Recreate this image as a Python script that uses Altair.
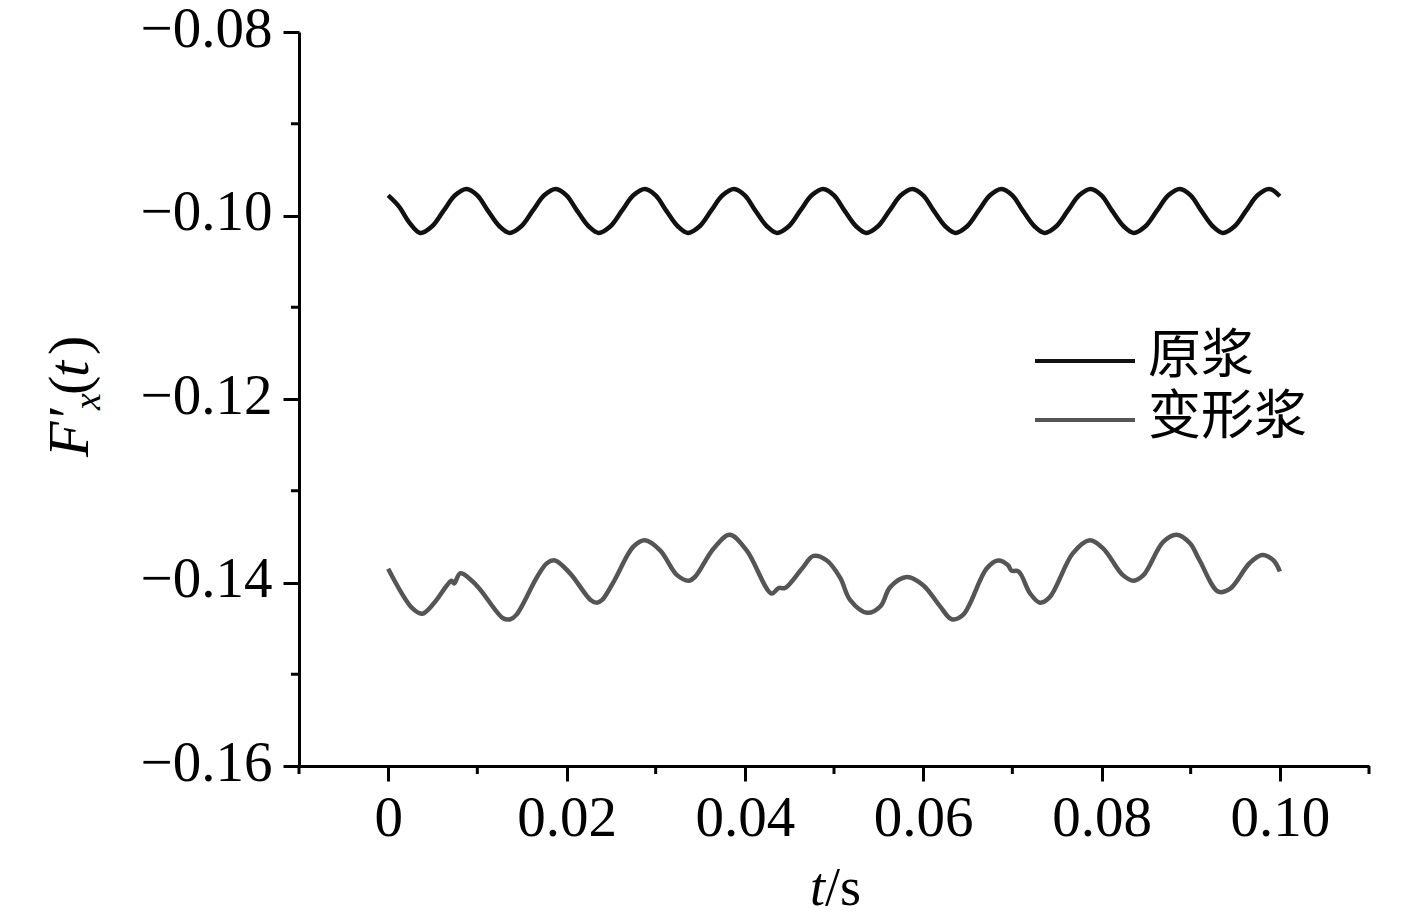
import altair as alt
import pandas as pd

# ---------------- data ----------------
series_names = ["原浆", "变形浆"]
series_colors = ["#111111", "#555555"]

black_t = [0.0000, 0.0012, 0.0024, 0.0036,
           0.0049, 0.0062, 0.0075, 0.0088, 0.0100, 0.0112, 0.0125, 0.0136,
           0.0149, 0.0162, 0.0175, 0.0188, 0.0200, 0.0212, 0.0225, 0.0236,
           0.0249, 0.0262, 0.0275, 0.0288, 0.0300, 0.0312, 0.0325, 0.0336,
           0.0349, 0.0362, 0.0375, 0.0388, 0.0400, 0.0412, 0.0425, 0.0436,
           0.0449, 0.0462, 0.0475, 0.0488, 0.0500, 0.0512, 0.0525, 0.0536,
           0.0549, 0.0562, 0.0575, 0.0588, 0.0600, 0.0612, 0.0625, 0.0636,
           0.0649, 0.0662, 0.0675, 0.0688, 0.0700, 0.0712, 0.0725, 0.0736,
           0.0749, 0.0762, 0.0775, 0.0788, 0.0800, 0.0812, 0.0825, 0.0836,
           0.0849, 0.0862, 0.0875, 0.0888, 0.0900, 0.0912, 0.0925, 0.0936,
           0.0949, 0.0962, 0.0975, 0.0988, 0.1000]
black_v = [-0.0978, -0.0990, -0.1008, -0.1019,
           -0.1012, -0.0995, -0.0978, -0.0971, -0.0978, -0.0995, -0.1012, -0.1019,
           -0.1012, -0.0995, -0.0978, -0.0971, -0.0978, -0.0995, -0.1012, -0.1019,
           -0.1012, -0.0995, -0.0978, -0.0971, -0.0978, -0.0995, -0.1012, -0.1019,
           -0.1012, -0.0995, -0.0978, -0.0971, -0.0978, -0.0995, -0.1012, -0.1019,
           -0.1012, -0.0995, -0.0978, -0.0971, -0.0978, -0.0995, -0.1012, -0.1019,
           -0.1012, -0.0995, -0.0978, -0.0971, -0.0978, -0.0995, -0.1012, -0.1019,
           -0.1012, -0.0995, -0.0978, -0.0971, -0.0978, -0.0995, -0.1012, -0.1019,
           -0.1012, -0.0995, -0.0978, -0.0971, -0.0978, -0.0995, -0.1012, -0.1019,
           -0.1012, -0.0995, -0.0978, -0.0971, -0.0978, -0.0995, -0.1012, -0.1019,
           -0.1012, -0.0995, -0.0978, -0.0971, -0.0979]

gray_t = [0.0000, 0.0027, 0.0038, 0.0051, 0.0066, 0.0071, 0.0074, 0.0081, 0.0099, 0.0129,
          0.0137, 0.0144, 0.0167, 0.0178, 0.0187, 0.0204, 0.0227, 0.0234, 0.0240, 0.0253,
          0.0275, 0.0288, 0.0305, 0.0324, 0.0337, 0.0344, 0.0365, 0.0383, 0.0402, 0.0430,
          0.0438, 0.0445, 0.0464, 0.0477, 0.0492, 0.0507, 0.0518, 0.0537, 0.0552, 0.0563,
          0.0582, 0.0600, 0.0619, 0.0632, 0.0645, 0.0671, 0.0684, 0.0695, 0.0699, 0.0707,
          0.0720, 0.0731, 0.0742, 0.0768, 0.0787, 0.0802, 0.0824, 0.0836, 0.0847, 0.0869,
          0.0884, 0.0899, 0.0910, 0.0931, 0.0944, 0.0966, 0.0980, 0.0993, 0.1000]
gray_v = [-0.1385, -0.1428, -0.1434, -0.1423, -0.1403, -0.1398, -0.1401, -0.1390, -0.1403, -0.1439,
          -0.1440, -0.1435, -0.1394, -0.1379, -0.1376, -0.1390, -0.1419, -0.1422, -0.1419, -0.1399,
          -0.1361, -0.1354, -0.1365, -0.1392, -0.1398, -0.1394, -0.1363, -0.1348, -0.1365, -0.1412,
          -0.1406, -0.1406, -0.1385, -0.1371, -0.1376, -0.1395, -0.1419, -0.1433, -0.1426, -0.1405,
          -0.1394, -0.1403, -0.1426, -0.1440, -0.1435, -0.1385, -0.1376, -0.1381, -0.1387, -0.1388,
          -0.1412, -0.1422, -0.1416, -0.1368, -0.1354, -0.1363, -0.1392, -0.1398, -0.1392, -0.1356,
          -0.1348, -0.1357, -0.1376, -0.1410, -0.1407, -0.1379, -0.1370, -0.1376, -0.1388]

x_major = [0.0, 0.02, 0.04, 0.06, 0.08, 0.10]
x_minor = [-0.01, 0.01, 0.03, 0.05, 0.07, 0.09, 0.11]
y_major = [-0.16, -0.14, -0.12, -0.10, -0.08]
y_minor = [-0.15, -0.13, -0.11, -0.09]

# ---------------- build ----------------
W, H = 1070, 734
SERIF = "Liberation Serif"
CJK = "Noto Sans CJK SC"

df = pd.concat([
    pd.DataFrame({"t": black_t, "v": black_v, "s": series_names[0]}),
    pd.DataFrame({"t": gray_t, "v": gray_v, "s": series_names[1]}),
], ignore_index=True)

xscale = alt.Scale(domain=[-0.01, 0.11], nice=False, zero=False)
yscale = alt.Scale(domain=[-0.16, -0.08], nice=False, zero=False)

x_axis = alt.Axis(
    values=x_major, title=None, grid=False,
    labelExpr="abs(datum.value) < 1e-9 ? '0' : format(datum.value, '.2f')",
    tickSize=15, tickWidth=3, domainWidth=3, tickColor="black", domainColor="black",
    labelFont=SERIF, labelFontSize=57, labelColor="black", labelPadding=9,
    labelFlush=False, labelOverlap=False,
)
y_axis = alt.Axis(
    values=y_major, title=None, grid=False,
    labelExpr="'\u2212' + format(abs(datum.value), '.2f')",
    tickSize=16, tickWidth=3, domainWidth=3, tickColor="black", domainColor="black",
    labelFont=SERIF, labelFontSize=57, labelColor="black", labelPadding=11,
    labelOffset=-3, labelFlush=False, labelOverlap=False,
)

lines = alt.Chart(df).mark_line(strokeWidth=4.5, interpolate="catmull-rom").encode(
    x=alt.X("t:Q", scale=xscale, axis=x_axis),
    y=alt.Y("v:Q", scale=yscale, axis=y_axis),
    color=alt.Color("s:N", scale=alt.Scale(domain=series_names, range=series_colors), legend=None),
)

# minor ticks, placed through the same scales (same axis spec so axes merge)
xminor = alt.Chart(pd.DataFrame({"t": x_minor})).mark_rule(color="black", strokeWidth=3).encode(
    x=alt.X("t:Q", scale=xscale, axis=x_axis),
    y=alt.value(H), y2=alt.value(H + 8),
)
yminor = alt.Chart(pd.DataFrame({"v": y_minor})).mark_rule(color="black", strokeWidth=3).encode(
    y=alt.Y("v:Q", scale=yscale, axis=y_axis),
    x=alt.value(0), x2=alt.value(-8),
)

one = pd.DataFrame({"k": [0]})

def txt(text, x, y, size=56, font=SERIF, style="normal", angle=0, align="left", baseline="alphabetic"):
    return alt.Chart(one).mark_text(
        text=text, font=font, fontSize=size, fontStyle=style, angle=angle,
        align=align, baseline=baseline, color="black",
    ).encode(x=alt.value(x), y=alt.value(y))

def seg(x1, x2, y, color):
    return alt.Chart(one).mark_rule(color=color, strokeWidth=4).encode(
        x=alt.value(x1), x2=alt.value(x2), y=alt.value(y))

# legend (manual)
legend = [
    seg(736, 836, 329, series_colors[0]),
    seg(736, 836, 388, series_colors[1]),
    txt(series_names[0], 849, 325, size=53, font=CJK, baseline="middle"),
    txt(series_names[1], 849, 386, size=53, font=CJK, baseline="middle"),
]

# axis titles (manual, mixed italics)
xtitle = [
    txt("t", 511, 873, size=54, style="italic"),
    txt("/s", 526, 873, size=54),
]
ytitle = [
    txt("F\u2032", -211, 425, size=58, style="italic", angle=270),
    txt("x", -199, 378, size=38, style="italic", angle=270),
    txt("(", -211, 363, size=58, angle=270),
    txt("t", -211, 345, size=58, style="italic", angle=270),
    txt(")", -211, 323, size=58, angle=270),
]

chart = alt.layer(lines, xminor, yminor, *legend, *xtitle, *ytitle).properties(
    width=W, height=H,
    autosize=alt.AutoSizeParams(type="none"),
    padding={"left": 291, "top": 24, "right": 40, "bottom": 150},
    background="white",
).configure_view(stroke=None)

chart.save("out.html", embed_options={"renderer": "svg", "actions": False})
